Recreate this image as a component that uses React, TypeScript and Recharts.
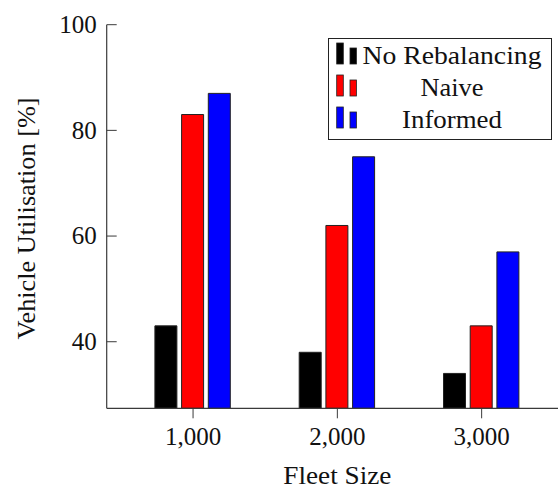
import React from 'react';
import { BarChart, Bar, XAxis, YAxis, Legend } from 'recharts';

const fleetSizes = [1000, 2000, 3000];
const noRebalancing = [43, 38, 34];
const naive = [83, 62, 43];
const informed = [87, 75, 57];
const yTicks = [40, 60, 80, 100];

const series = [
  { key: 'noRebalancing', name: 'No Rebalancing', color: '#000000', textWidth: 179 },
  { key: 'naive', name: 'Naive', color: '#ff0000', textWidth: 63 },
  { key: 'informed', name: 'Informed', color: '#0000ff', textWidth: 100 },
];

const data = fleetSizes.map((size, i) => ({
  size,
  noRebalancing: noRebalancing[i],
  naive: naive[i],
  informed: informed[i],
}));

const FONT = 'Liberation Serif, serif';
const AXIS = '#3a3a3a';
const TEXT = '#111';
const FS = 25;
const textStyle = { fontFamily: FONT, fontSize: FS };

// pgfplots draws y ticks on the inside of the axis
const YTick = (props: any) => {
  const { x, y, payload } = props;
  return (
    <g>
      <line x1={x + 10} x2={x + 20} y1={y} y2={y} stroke={AXIS} strokeWidth={1} />
      <text x={x} y={y} dy="0.33em" textAnchor="end" fill={TEXT} style={textStyle}>
        {payload.value}
      </text>
    </g>
  );
};

const YTitle = (props: any) => {
  const { viewBox } = props;
  const x = viewBox.x + 34.5;
  const y = viewBox.y + viewBox.height / 2 + 2;
  return (
    <text
      x={x}
      y={y}
      transform={`rotate(-90, ${x}, ${y})`}
      textAnchor="middle"
      fill={TEXT}
      style={textStyle}
      textLength={242}
      lengthAdjust="spacingAndGlyphs"
    >
      Vehicle Utilisation [%]
    </text>
  );
};

const XTitle = (props: any) => {
  const { viewBox } = props;
  return (
    <text
      x={viewBox.x + viewBox.width / 2}
      y={viewBox.y + 75.7}
      textAnchor="middle"
      fill={TEXT}
      style={textStyle}
      textLength={108}
      lengthAdjust="spacingAndGlyphs"
    >
      Fleet Size
    </text>
  );
};

const LegendBox = () => (
  <svg width={224} height={102} style={{ display: 'block', overflow: 'visible' }}>
    <rect x={0.5} y={0.5} width={223} height={101} fill="#fff" stroke="#222" strokeWidth={1} />
    {series.map((s, i) => {
      const base = 26 + i * 32;
      return (
        <g key={s.key}>
          <rect x={8.7} y={base - 21} width={6.6} height={21} fill={s.color} stroke="#222" strokeWidth={0.8} />
          <rect x={22} y={base - 16} width={6.4} height={16} fill={s.color} stroke="#222" strokeWidth={0.8} />
          <text
            x={124}
            y={base}
            textAnchor="middle"
            fill={TEXT}
            style={textStyle}
            textLength={s.textWidth}
            lengthAdjust="spacingAndGlyphs"
          >
            {s.name}
          </text>
        </g>
      );
    })}
  </svg>
);

export default function App() {
  return (
    <div style={{ position: 'absolute', left: 0, top: 0, width: 558, height: 490, overflow: 'hidden', background: '#fff', fontFamily: FONT }}>
      <BarChart
        width={580}
        height={490}
        data={data}
        margin={{ top: 24.7, right: 12, left: 0, bottom: 21.7 }}
        barSize={22}
        barGap={4.7}
        style={{ fontFamily: FONT }}
      >
        <XAxis
          dataKey="size"
          tickFormatter={(v) => Number(v).toLocaleString('en-US')}
          padding={{ left: 14.2, right: 14.2 }}
          height={60}
          tickSize={10}
          tickMargin={8.7}
          tickLine={{ stroke: AXIS }}
          axisLine={{ stroke: AXIS, strokeWidth: 1.2 }}
          tick={{ fill: TEXT, fontSize: FS, fontFamily: FONT, style: textStyle }}
          label={{ content: XTitle }}
        />
        <XAxis
          xAxisId="top"
          orientation="top"
          dataKey="size"
          padding={{ left: 14.2, right: 14.2 }}
          height={0}
          tickSize={10}
          tick={false}
          tickLine={{ stroke: AXIS }}
          axisLine={{ stroke: AXIS, strokeWidth: 1.2 }}
        />
        <YAxis
          domain={[27.4, 100]}
          ticks={yTicks}
          allowDataOverflow
          width={106.7}
          tickSize={0}
          tickMargin={10}
          tickLine={false}
          axisLine={{ stroke: AXIS, strokeWidth: 1.2 }}
          tick={<YTick />}
          label={{ content: YTitle }}
        />
        <Legend
          layout="horizontal"
          verticalAlign="middle"
          align="center"
          wrapperStyle={{ left: 328, top: 37.5, width: 224, height: 102 }}
          content={() => <LegendBox />}
        />
        {series.map((s) => (
          <Bar
            key={s.key}
            dataKey={s.key}
            name={s.name}
            fill={s.color}
            stroke="#222"
            strokeWidth={1}
            isAnimationActive={false}
          />
        ))}
      </BarChart>
    </div>
  );
}
